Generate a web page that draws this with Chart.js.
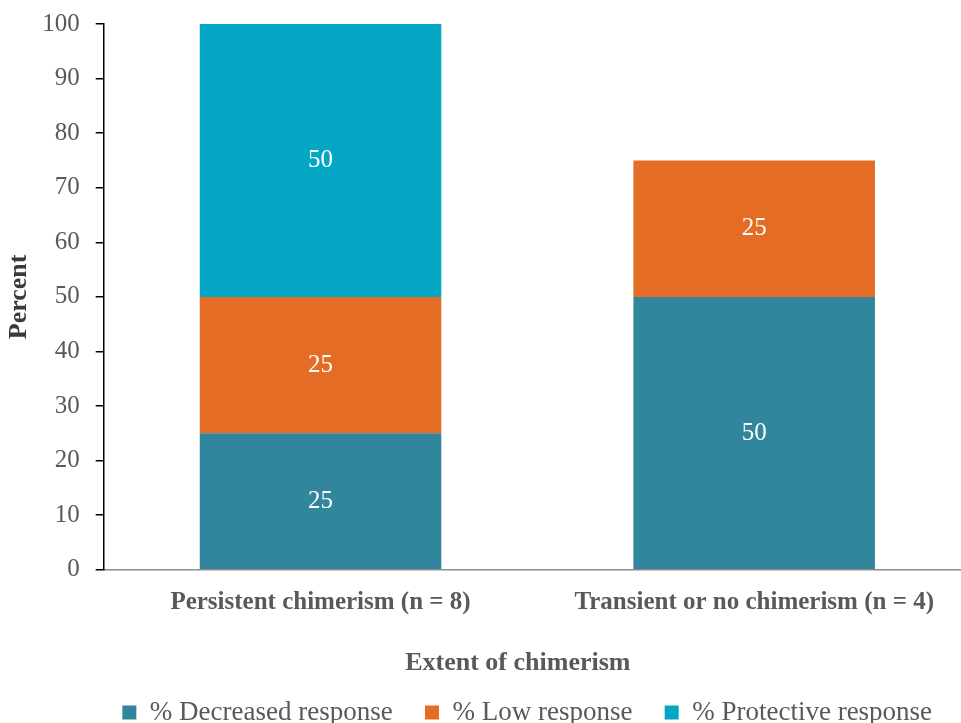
<!DOCTYPE html>
<html>
<head>
<meta charset="utf-8">
<script src="https://cdn.jsdelivr.net/npm/chart.js@4.4.1/dist/chart.umd.min.js"></script>
<style>
  html, body { margin: 0; padding: 0; background: #fff; overflow: hidden; }
  #wrap { width: 961px; height: 723px; overflow: hidden; }
  canvas { display: block; }
</style>
</head>
<body>
<div id="wrap"><canvas id="chimerismChart" width="971" height="736"></canvas></div>
<script>
// --- DATA ---
const groups = ['Persistent chimerism (n = 8)', 'Transient or no chimerism (n = 4)'];
const decreased = [25, 50];
const low = [25, 25];
const protective = [50, 0];
const yTicks = [0, 10, 20, 30, 40, 50, 60, 70, 80, 90, 100];

const SERIF = '"Liberation Serif", "Times New Roman", serif';
const GREY = '#595959';

// white value labels in the middle of each segment
const segmentLabels = {
    id: 'segmentLabels',
    afterDatasetsDraw(chart) {
        const ctx = chart.ctx;
        ctx.save();
        ctx.fillStyle = '#ffffff';
        ctx.font = '25px ' + SERIF;
        ctx.textAlign = 'center';
        ctx.textBaseline = 'middle';
        chart.data.datasets.forEach((ds, i) => {
            chart.getDatasetMeta(i).data.forEach((bar, j) => {
                const v = ds.data[j];
                if (!v) return;
                ctx.fillText(String(v), bar.x, (bar.y + bar.base) / 2);
            });
        });
        ctx.restore();
    }
};

const ctx = document.getElementById('chimerismChart').getContext('2d');
new Chart(ctx, {
    type: 'bar',
    data: {
        labels: groups,
        datasets: [
            { label: '% Decreased response', data: decreased, backgroundColor: '#31859c' },
            { label: '% Low response', data: low, backgroundColor: '#e46c24' },
            { label: '% Protective response', data: protective, backgroundColor: '#03a6c3' }
        ]
    },
    options: {
        responsive: false,
        animation: false,
        layout: { autoPadding: false, padding: { top: 24, right: 0, left: 4, bottom: 0 } },
        datasets: { bar: { categoryPercentage: 1.0, barPercentage: 0.557 } },
        scales: {
            x: {
                stacked: true,
                grid: { display: false, drawTicks: false },
                border: { color: '#8c8c8c', width: 1.5 },
                ticks: {
                    color: GREY,
                    font: { family: SERIF, size: 25, weight: 'bold' },
                    padding: 18
                },
                title: {
                    display: true,
                    // trailing spaces nudge the centred title a bit to the left
                    text: 'Extent of chimerism      ',
                    color: GREY,
                    font: { family: SERIF, size: 26, weight: 'bold' },
                    padding: { top: 12, bottom: 8 }
                }
            },
            y: {
                stacked: true,
                min: 0,
                max: 100,
                afterBuildTicks(scale) { scale.ticks = yTicks.map(v => ({ value: v })); },
                // tighten the gap between the axis title and the tick labels
                afterFit(scale) { scale.width -= 9; },
                grid: { display: true, drawOnChartArea: false, drawTicks: true, tickLength: 8, color: '#000', lineWidth: 1.5 },
                border: { color: '#000', width: 1.5 },
                ticks: {
                    color: GREY,
                    // small lineHeight so the top label doesn't push the plot down
                    font: { family: SERIF, size: 25, lineHeight: 0.6 },
                    padding: 16
                },
                title: {
                    display: true,
                    text: 'Percent',
                    color: '#3a3a3a',
                    font: { family: SERIF, size: 26, weight: 'bold' },
                    padding: { top: 0, bottom: 0 }
                }
            }
        },
        plugins: {
            legend: {
                position: 'bottom',
                fullSize: false,
                labels: {
                    color: GREY,
                    font: { family: SERIF, size: 27 },
                    boxWidth: 14,
                    boxHeight: 14,
                    padding: 12,
                    // extra room between the legend entries
                    generateLabels(chart) {
                        return Chart.defaults.plugins.legend.labels.generateLabels(chart)
                            .map(item => ({ ...item, text: item.text + '   ' }));
                    }
                }
            },
            tooltip: { enabled: false }
        }
    },
    plugins: [segmentLabels]
});
</script>
</body>
</html>
